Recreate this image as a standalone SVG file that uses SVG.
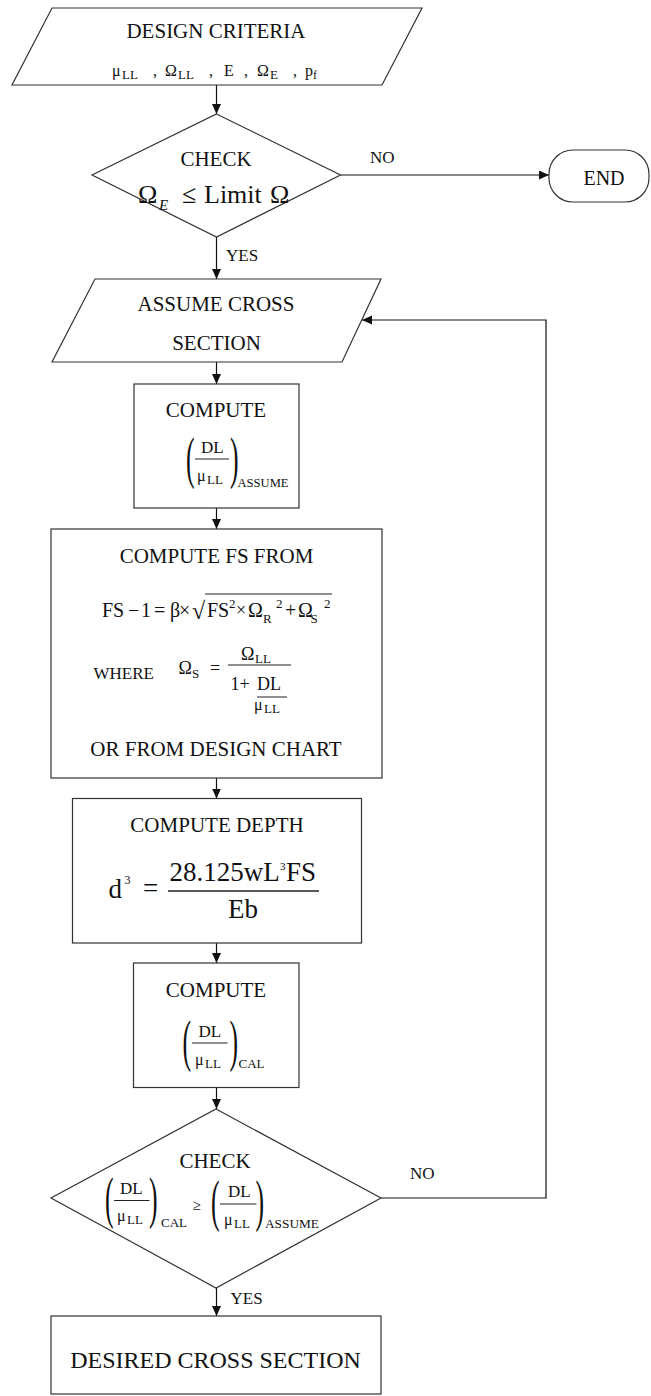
<svg xmlns="http://www.w3.org/2000/svg" width="651" height="1396" viewBox="0 0 651 1396">
<style>
text{font-family:"Liberation Serif","Times New Roman",serif;fill:#111}
.t21{font-size:21px}
.t17{font-size:17px}
.t16{font-size:16px}
.t13{font-size:13px}
.t12{font-size:12px}
.t20{font-size:20px}
.t27{font-size:27px}
.par{font-size:56px}
.shape{fill:#fff;stroke:#333;stroke-width:1.2}
.bar{stroke:#222;stroke-width:1}
.conn{fill:none;stroke:#111;stroke-width:1.2}
.mid{text-anchor:middle}
</style>
<defs>
<marker id="ah" markerUnits="userSpaceOnUse" markerWidth="10" markerHeight="10" refX="10" refY="4.5" orient="auto">
<path d="M0,0 L10,4.5 L0,9 z" fill="#111"/>
</marker>
</defs>

<g id="connectors">
<line class="conn" x1="216.5" y1="85" x2="216.5" y2="114" marker-end="url(#ah)"/>
<line class="conn" x1="340.5" y1="175" x2="549" y2="175" marker-end="url(#ah)"/>
<line class="conn" x1="216.5" y1="237" x2="216.5" y2="279" marker-end="url(#ah)"/>
<line class="conn" x1="216.5" y1="362" x2="216.5" y2="384" marker-end="url(#ah)"/>
<line class="conn" x1="216.5" y1="508" x2="216.5" y2="529" marker-end="url(#ah)"/>
<line class="conn" x1="216.5" y1="778" x2="216.5" y2="798.5" marker-end="url(#ah)"/>
<line class="conn" x1="216.5" y1="943" x2="216.5" y2="963" marker-end="url(#ah)"/>
<line class="conn" x1="216.5" y1="1087.5" x2="216.5" y2="1109" marker-end="url(#ah)"/>
<line class="conn" x1="216.5" y1="1288" x2="216.5" y2="1316" marker-end="url(#ah)"/>
<polyline class="conn" points="381,1198 546,1198 546,320 362,320" marker-end="url(#ah)"/>
<text class="t17" x="370" y="163">NO</text>
<text class="t17" x="226" y="261">YES</text>
<text class="t17" x="410" y="1179">NO</text>
<text class="t17" x="230.5" y="1303.5">YES</text>
</g>

<g id="design-criteria">
<polygon class="shape" points="52,8 422,8 382,85 12,85"/>
<text class="t21 mid" x="216" y="38">DESIGN CRITERIA</text>
<text class="t16" x="112" y="76">μ</text><text class="t13" x="122" y="79">LL</text>
<text class="t16" x="153" y="76">,</text>
<text class="t16" x="165" y="76">Ω</text><text class="t13" x="178" y="79">LL</text>
<text class="t16" x="209" y="76">,</text>
<text class="t16" x="224" y="76">E</text>
<text class="t16" x="244" y="76">,</text>
<text class="t16" x="257" y="76">Ω</text><text class="t13" x="270" y="79">E</text>
<text class="t16" x="293" y="76">,</text>
<text class="t16" x="305" y="76">p</text><text class="t12" x="313" y="79">f</text>
</g>

<g id="check-1">
<polygon class="shape" points="216.5,114 340.5,175 216.5,237 92,175"/>
<text class="t21 mid" x="216" y="166">CHECK</text>
<text style="font-size:26px" x="138" y="203">Ω</text>
<text style="font-size:15px;font-style:italic" x="159" y="210">E</text>
<text style="font-size:26px" x="182" y="203">≤</text>
<text style="font-size:26px" x="204" y="203">Limit</text>
<text style="font-size:26px" x="270" y="203">Ω</text>
</g>

<g id="end">
<rect class="shape" x="549" y="150" width="100" height="52" rx="24" ry="24"/>
<text style="font-size:20px" class="mid" x="604" y="185">END</text>
</g>

<g id="assume-cross-section">
<polygon class="shape" points="95,279 381,279 342,362 52,362"/>
<text class="t21 mid" x="216" y="311">ASSUME CROSS</text>
<text class="t21 mid" x="216.5" y="349.5">SECTION</text>
</g>

<g id="compute-assume">
<rect class="shape" x="134" y="384" width="165" height="124"/>
<text class="t21 mid" x="216" y="417">COMPUTE</text>
<text class="par" transform="translate(186,477) scale(0.46,1)">(</text>
<text class="t17" x="201" y="453">DL</text>
<line class="bar" x1="195" y1="459" x2="229" y2="459"/>
<text class="t16" x="197" y="481">μ</text><text class="t13" x="207" y="484">LL</text>
<text class="par" transform="translate(230,477) scale(0.46,1)">)</text>
<text class="t12" x="237.5" y="486.5" textLength="51" lengthAdjust="spacingAndGlyphs">ASSUME</text>
</g>

<g id="compute-fs">
<rect class="shape" x="51" y="529" width="331" height="249"/>
<text class="t21 mid" x="216.5" y="562.5">COMPUTE FS FROM</text>
<text class="t20" x="102" y="617">FS</text>
<text class="t20" x="128" y="617">−</text>
<text class="t20" x="141" y="617">1</text>
<text class="t20" x="154" y="617">=</text>
<text class="t20" x="170" y="617">β</text>
<text class="t20" x="179" y="617">×</text>
<text style="font-size:24px" x="192" y="619">√</text>
<line class="bar" x1="205" y1="594" x2="332" y2="594"/>
<text class="t20" x="207" y="617">FS</text>
<text class="t13" x="229" y="608">2</text>
<text style="font-size:18px" x="236" y="616">×</text>
<text class="t20" x="248" y="617">Ω</text>
<text class="t13" x="263" y="623">R</text>
<text class="t13" x="276" y="608">2</text>
<text class="t20" x="285" y="617">+</text>
<text class="t20" x="298" y="617">Ω</text>
<text class="t13" x="310.5" y="623">S</text>
<text class="t13" x="324" y="608">2</text>
<text class="t17" x="93.5" y="678.5">WHERE</text>
<text style="font-size:18px" x="178.5" y="674">Ω</text>
<text class="t13" x="192" y="678">S</text>
<text style="font-size:18px" x="210" y="674">=</text>
<line class="bar" x1="228" y1="665" x2="291" y2="665"/>
<text style="font-size:18px" x="241" y="660">Ω</text>
<text class="t13" x="255" y="663">LL</text>
<text style="font-size:18px" x="230.5" y="690">1+</text>
<text style="font-size:18px" x="257" y="690">DL</text>
<line class="bar" x1="257" y1="697" x2="287" y2="697"/>
<text class="t16" x="254" y="710">μ</text><text class="t13" x="264" y="713">LL</text>
<text class="t21 mid" x="216" y="755.5">OR FROM DESIGN CHART</text>
</g>

<g id="compute-depth">
<rect class="shape" x="72.5" y="798.5" width="289" height="144.5"/>
<text class="t21 mid" x="217" y="832">COMPUTE DEPTH</text>
<text class="t27" x="108.5" y="897.5">d</text>
<text style="font-size:12px" x="124.5" y="884">3</text>
<text class="t27" x="143" y="897">=</text>
<text class="t27" x="169.4" y="881">28.125wL</text>
<text style="font-size:11px" x="280" y="870">3</text>
<text class="t27" x="286" y="881">FS</text>
<line class="bar" x1="168" y1="891" x2="319" y2="891" style="stroke-width:1.3"/>
<text class="t27" x="228" y="918">Eb</text>
</g>

<g id="compute-cal">
<rect class="shape" x="133.5" y="963" width="165.5" height="124.5"/>
<text class="t21 mid" x="216" y="997">COMPUTE</text>
<text class="par" transform="translate(182.5,1060) scale(0.46,1)">(</text>
<text class="t17" x="198.5" y="1036.5">DL</text>
<line class="bar" x1="192" y1="1043" x2="227.5" y2="1043"/>
<text class="t16" x="195" y="1065">μ</text><text class="t13" x="205" y="1068">LL</text>
<text class="par" transform="translate(229.5,1060) scale(0.46,1)">)</text>
<text class="t13" x="238.5" y="1067.5">CAL</text>
</g>

<g id="check-2">
<polygon class="shape" points="216,1109 381,1198 216,1288 51,1198"/>
<text class="t21 mid" x="215" y="1167.5">CHECK</text>
<text class="par" transform="translate(105,1217) scale(0.46,1)">(</text>
<text class="t17" x="120" y="1193.5">DL</text>
<line class="bar" x1="114" y1="1200.5" x2="149.5" y2="1200.5"/>
<text class="t16" x="117" y="1221">μ</text><text class="t13" x="127" y="1224">LL</text>
<text class="par" transform="translate(149,1217) scale(0.46,1)">)</text>
<text class="t13" x="161" y="1227">CAL</text>
<text style="font-size:15px" x="192.5" y="1210">≥</text>
<text class="par" transform="translate(211,1220) scale(0.46,1)">(</text>
<text class="t17" x="228" y="1197">DL</text>
<line class="bar" x1="220" y1="1204" x2="256.5" y2="1204"/>
<text class="t16" x="224" y="1225">μ</text><text class="t13" x="234" y="1228">LL</text>
<text class="par" transform="translate(255.5,1220) scale(0.46,1)">)</text>
<text class="t12" x="265" y="1228" textLength="54" lengthAdjust="spacingAndGlyphs">ASSUME</text>
</g>

<g id="desired-cross-section">
<rect class="shape" x="51" y="1316" width="330" height="78"/>
<text class="mid" style="font-size:24px" x="215.5" y="1368">DESIRED CROSS SECTION</text>
</g>
</svg>
